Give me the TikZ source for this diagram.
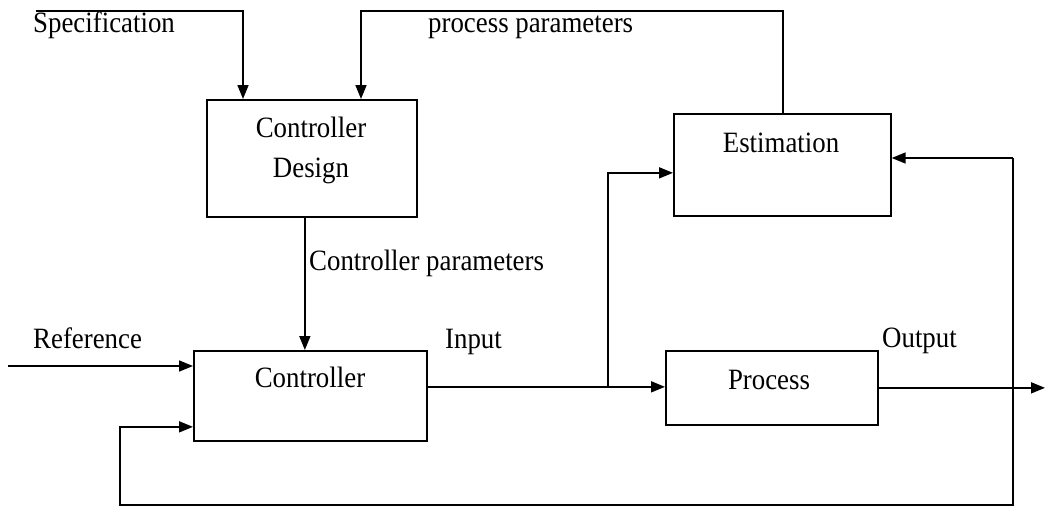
\documentclass[tikz,border=0pt]{standalone}
\usepackage{fontspec}
\setmainfont{LiberationSerif}[Extension=.ttf,UprightFont=*-Regular,BoldFont=*-Bold,ItalicFont=*-Italic,BoldItalicFont=*-BoldItalic,FakeStretch=0.91]
\usetikzlibrary{arrows.meta}
\begin{document}
\begin{tikzpicture}[x=1pt,y=-1pt,
  box/.style={draw,line width=1.7pt,rectangle,inner sep=0pt,anchor=north west},
  wire/.style={line width=1.7pt},
  arr/.style={wire,-{Triangle[length=14pt,width=11pt]}},
  lbl/.style={anchor=base west,inner sep=0pt,font=\rmfamily\fontsize{29.5}{34}\selectfont},
  btxt/.style={anchor=base,inner sep=0pt,font=\rmfamily\fontsize{29.5}{34}\selectfont}]
\path[use as bounding box] (0,0) rectangle (1046,509);

% blocks
\node[box,minimum width=210pt,minimum height=117pt] (cd)   at (206,99)  {};
\node[box,minimum width=217pt,minimum height=102pt] (est)  at (673,113) {};
\node[box,minimum width=233pt,minimum height=90pt]  (ctl)  at (193,350) {};
\node[box,minimum width=212pt,minimum height=74pt]  (proc) at (665,350) {};

% block titles
\node[btxt] (cdt1)  at (311,137) {Controller};
\node[btxt] (cdt2)  at (311,177) {Design};
\node[btxt] (estt)  at (781,152) {Estimation};
\node[btxt] (ctlt)  at (310,387) {Controller};
\node[btxt] (proct) at (769,389) {Process};

% signal labels
\node[lbl] (lspec) at (33,32)   {Specification};
\node[lbl] (lpp)   at (428,32)  {process parameters};
\node[lbl] (lcp)   at (309,270) {Controller parameters};
\node[lbl] (lref)  at (33,348)  {Reference};
\node[lbl] (lin)   at (445,348) {Input};
\node[lbl] (lout)  at (882,347) {Output};

% routing points
\coordinate (spec)   at (36,11);
\coordinate (pptop)  at (361,11);
\coordinate (cpx)    at ([xshift=-7pt]cd.south);
\coordinate (refin)  at (8,366);
\coordinate (uout)   at ([yshift=9pt]ctl.east);
\coordinate (jn)     at (608,386);
\coordinate (estin)  at ([yshift=-8pt]est.west);
\coordinate (yout)   at (1045,387);
\coordinate (fbtop)  at (1013,158);
\coordinate (fbbot)  at (1013,505);
\coordinate (fbleft) at (120,505);
\coordinate (ctlfb)  at ([yshift=-31pt]ctl.west);

% connectors
\draw[arr] (spec) -| ([xshift=37pt]cd.north west);
\draw[arr] ([xshift=110pt]est.north west) |- (pptop) -- (pptop |- cd.north);
\draw[arr] (cpx) -- (cpx |- ctl.north);
\draw[arr] (refin) -- (refin -| ctl.west);
\draw[arr] (uout) -- (uout -| proc.west);
\draw[arr] (jn) |- (estin);
\draw[arr] (proc.east) -- (proc.east -| yout);
\draw[arr] (fbtop) -- (fbtop -| est.east);
\draw[arr] (fbtop) -- (fbbot) -- (fbleft) |- (ctlfb);
\end{tikzpicture}
\end{document}
